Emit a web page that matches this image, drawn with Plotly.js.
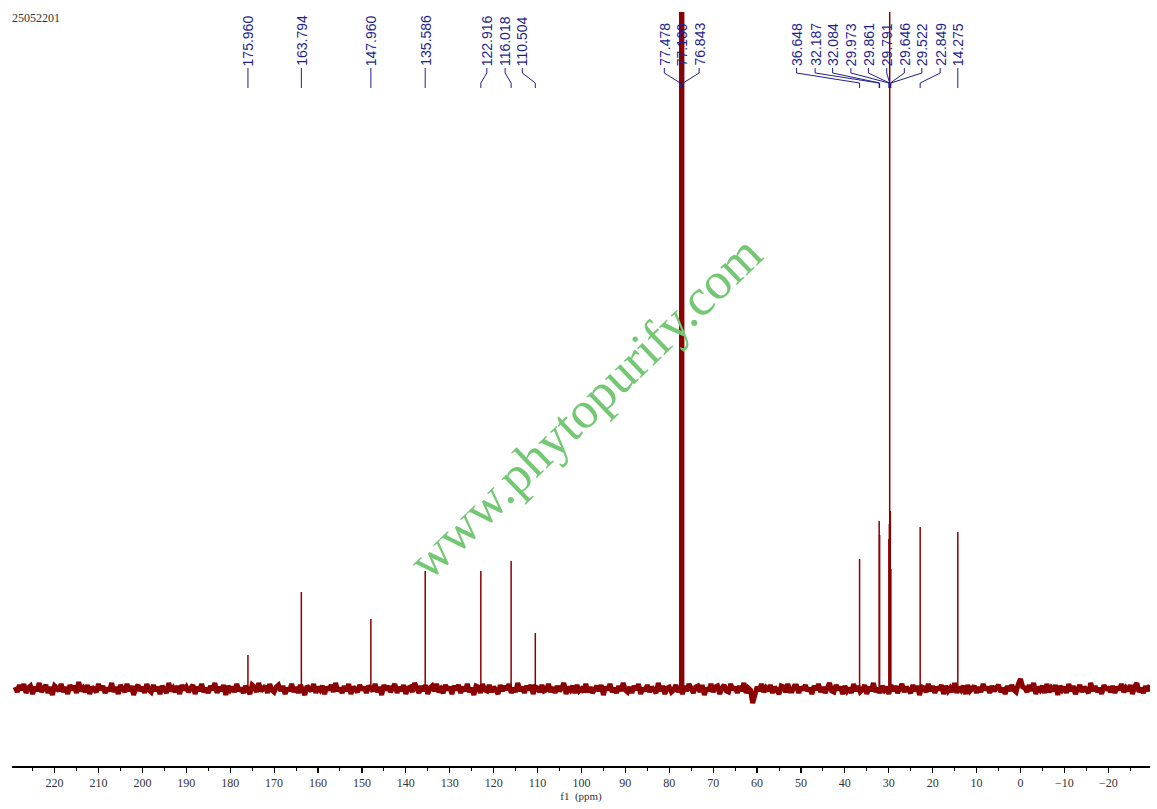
<!DOCTYPE html>
<html><head><meta charset="utf-8">
<script src="https://cdn.plot.ly/plotly-3.0.1.min.js"></script>
<style>html,body{margin:0;padding:0;background:#fff;overflow:hidden;}#plot{width:1157px;height:809px;}</style>
</head><body><div id="plot"></div>
<script>
// ---- data ----
const sampleName = "25052201";
const watermark = "www.phytopurify.com";
const axisTitle = "f1  (ppm)";

// carbon signals (ppm) and their heights above baseline (display units)
const peakPpm    = [175.960, 163.794, 147.960, 135.586, 122.916, 116.018, 110.504,
                    36.648, 32.187, 32.084, 29.973, 29.861, 29.791, 29.646, 29.522, 22.849, 14.275];
const peakHeight = [34, 97, 70, 118, 118, 128, 56,
                    130, 168, 154, 150, 165, 3000, 178, 120, 162, 157];
// CDCl3 solvent triplet (off scale)
const solventPpm    = [77.478, 77.160, 76.843];
const solventHeight = [3000, 3000, 3000];

// baseline noise, one value per 0.5 ppm from 229 downwards
const noiseStartPpm = 229;
const noiseStepPpm = -0.5;
const noise = [
 2,-3,4,-1,5,-4,1,3,-5,2,-2,6,-3,0,4,-4,2,-6,3,1,
 -2,5,-3,2,-5,4,-1,3,-4,7,-2,1,-3,4,-5,2,0,-3,5,-1,
 3,-4,1,-2,6,-3,2,-5,4,-1,-3,5,-2,3,-6,1,4,-2,2,-4,
 5,-1,-3,4,-2,2,-5,3,0,-4,6,-2,1,-3,3,-5,4,-1,2,-3,
 1,4,-5,2,-2,5,-3,1,-4,3,-1,6,-4,2,-2,4,-6,3,-1,2,
 -3,5,-2,1,-4,3,-1,-5,4,2,-3,6,-2,0,3,-4,5,-1,-3,2,
 4,-2,3,-5,1,-2,5,-3,2,-4,4,-1,-6,3,1,-2,5,-4,2,-1,
 3,-5,2,-1,4,-3,6,-2,1,-4,3,-2,5,-5,2,0,-3,4,-1,2,
 -4,3,1,-2,5,-3,2,-6,4,-1,3,-3,1,5,-4,2,-2,4,-5,1,
 2,-3,6,-1,-4,3,-2,4,-5,1,3,-2,5,-3,0,-4,4,-1,2,-5,
 3,-1,4,-4,2,-2,5,-3,1,-6,3,2,-4,5,-1,-2,4,-3,2,-1,
 -5,4,-2,3,-1,5,-4,1,-3,6,-2,2,-4,3,-1,4,-5,2,1,-3,
 4,-2,-1,5,-3,2,-4,3,-2,1,6,-5,2,-1,3,-4,4,-2,0,-3,
 5,-3,2,-4,1,3,-2,4,-6,2,-1,5,-3,1,-4,3,-2,6,-1,-3,
 2,-4,3,-1,5,-5,1,-2,4,-3,2,-1,-4,6,-2,3,-5,1,2,-3,
 -1,4,-3,2,-5,3,-2,5,-1,-4,2,3,-3,4,-6,1,-2,5,-3,2,
 3,-5,1,4,-2,-3,5,-1,2,-4,3,-2,6,-4,1,-1,-14,-6,2,-2,
 5,-3,1,-2,4,-4,2,-1,-5,3,2,-3,5,-2,-2,3,3,-4,2,-1,
 4,-2,1,-5,3,-1,5,-3,2,-4,1,6,-2,-3,4,-1,2,-5,3,-2,
 1,-4,5,-2,3,-3,-1,4,-5,2,-2,6,-3,1,-4,3,-1,2,-5,4,
 -2,3,-4,1,5,-3,2,-1,-4,4,-2,3,-6,2,1,-3,5,-2,3,-4,
 2,-1,4,-5,3,-2,1,-3,6,-4,2,-1,3,-5,4,-2,1,3,-4,2,
 -3,5,-1,2,-4,3,-2,1,4,-3,1,-5,3,-2,4,-1,-3,5,10,2,
 1,-3,4,-2,6,-5,2,-1,3,-4,5,-3,1,-2,4,-6,3,-1,2,-4,
 5,-2,3,-5,1,4,-3,2,-1,-4,6,-2,3,-3,1,-5,4,-1,2,-3,
 3,-4,2,-1,5,-3,1,-2,4,-5,2,6,-3,1,-4,3,-2,4
];

// ---- layout settings ----
const W = 1157, H = 809;
const M = {l: 12, r: 7, t: 12, b: 43};
const plotW = W - M.l - M.r, plotH = H - M.t - M.b;
const xRange = [229.7, -29.5];
const yRange = [-77, 677];
const pxPerPpm = plotW / (xRange[0] - xRange[1]);
// horizontal pixel offset of each peak label from its peak (labels in descending ppm order)
const labelShiftPx = [0, 0, 0, 0, 6, -6, -13, -16, 0, 16,
                      -63, -64, -47, -38, -21, -3, 14, 31, 20, 0];
const red = '#8b0000', blue = '#1f1f8c';
function paperY(py) { return (H - M.b - py) / plotH; }

// ---- traces ----
const noiseX = noise.map((_, i) => noiseStartPpm + i * noiseStepPpm);
function sticks(xs, hs) {
  const x = [], y = [];
  xs.forEach((p, i) => { x.push(p, p, p, null); y.push(0, hs[i], 0, null); });
  return {x, y};
}
const pk = sticks(peakPpm, peakHeight);
const sv = sticks(solventPpm, solventHeight);
const traces = [
  {type: 'scatter', mode: 'lines', x: noiseX, y: noise, line: {color: red, width: 5}, hoverinfo: 'skip'},
  {type: 'scatter', mode: 'lines', x: pk.x, y: pk.y, line: {color: red, width: 1.5}, hoverinfo: 'skip', connectgaps: false},
  {type: 'scatter', mode: 'lines', x: sv.x, y: sv.y, line: {color: red, width: 2.6}, hoverinfo: 'skip', connectgaps: false}
];

// ---- peak labels ----
const allPeaks = peakPpm.concat(solventPpm).slice().sort((a, b) => b - a);
const annotations = [], shapes = [];
allPeaks.forEach((p, i) => {
  const sh = labelShiftPx[i] || 0;
  const lx = p - sh / pxPerPpm;
  annotations.push({
    x: lx, xref: 'x', y: paperY(68), yref: 'paper', xanchor: 'center', yanchor: 'bottom',
    text: p.toFixed(3), textangle: -90, showarrow: false,
    font: {family: 'Liberation Sans, Arial, sans-serif', size: 14, color: blue}
  });
  shapes.push({
    type: 'path', xref: 'x', yref: 'paper',
    path: `M ${lx},${paperY(68)} L ${lx},${paperY(73)} L ${p},${paperY(83)} L ${p},${paperY(88)}`,
    line: {color: blue, width: 1}
  });
});
annotations.push({
  x: 0, xref: 'paper', xshift: -2, y: paperY(18), yref: 'paper', xanchor: 'left', yanchor: 'middle',
  text: sampleName, showarrow: false,
  font: {family: 'Liberation Serif, serif', size: 12, color: '#333'}
});
annotations.push({
  x: (585 - M.l) / plotW, xref: 'paper', y: paperY(408), yref: 'paper', xanchor: 'center', yanchor: 'middle',
  text: watermark, textangle: -44, showarrow: false,
  font: {family: 'Liberation Serif, Times New Roman, serif', size: 52, color: '#74c874'}
});

const layout = {
  width: W, height: H, margin: M, paper_bgcolor: '#fff', plot_bgcolor: '#fff', showlegend: false,
  xaxis: {
    range: xRange, showgrid: false, zeroline: false, showline: true, linecolor: '#000', linewidth: 1.5,
    tick0: 0, dtick: 10, ticks: 'outside', ticklen: 5, tickwidth: 1.2, tickcolor: '#000',
    minor: {dtick: 5, tick0: 0, ticks: 'outside', ticklen: 3, tickwidth: 1, tickcolor: '#000', showgrid: false},
    tickfont: {family: 'Liberation Serif, serif', size: 12, color: '#333'},
    title: {text: axisTitle, standoff: 3, font: {family: 'Liberation Serif, serif', size: 11, color: '#333'}},
    fixedrange: true
  },
  yaxis: {range: yRange, visible: false, fixedrange: true},
  annotations: annotations, shapes: shapes
};
Plotly.newPlot('plot', traces, layout, {staticPlot: true, displayModeBar: false});
</script>
</body></html>
